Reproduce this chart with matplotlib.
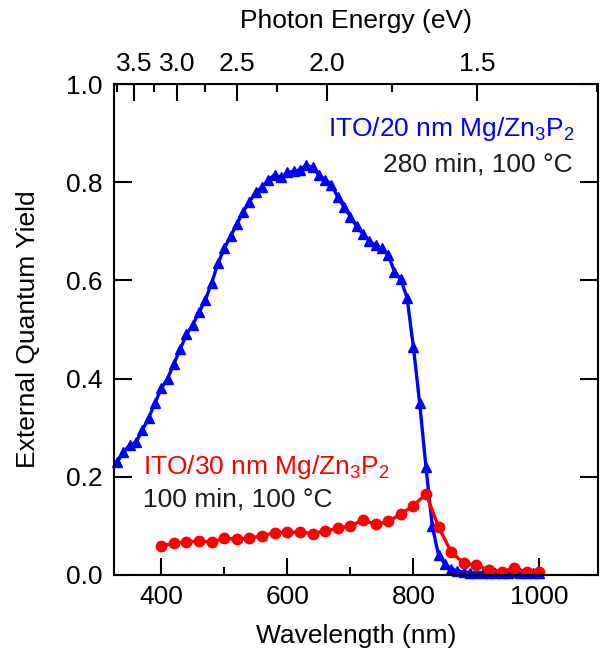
import numpy as np
import matplotlib
matplotlib.use("Agg")
import matplotlib.pyplot as plt

plt.rcParams["font.family"] = ["Liberation Sans", "DejaVu Sans"]
plt.rcParams["mathtext.fontset"] = "custom"
plt.rcParams["mathtext.rm"] = "Liberation Sans"
plt.rcParams["mathtext.it"] = "Liberation Sans:italic"

# ITO/20 nm Mg/Zn3P2, 280 min, 100 C
wl_blue = np.arange(330, 1001, 10)
eqe_blue = [0.23, 0.25, 0.265, 0.27, 0.295, 0.32, 0.35, 0.38, 0.40, 0.43,
            0.46, 0.49, 0.51, 0.535, 0.56, 0.595, 0.635, 0.665, 0.69, 0.715,
            0.74, 0.76, 0.78, 0.79, 0.805, 0.815, 0.81, 0.82, 0.822, 0.825,
            0.835, 0.83, 0.815, 0.805, 0.795, 0.77, 0.75, 0.73, 0.71, 0.695,
            0.68, 0.672, 0.665, 0.652, 0.618, 0.602, 0.565, 0.465, 0.35, 0.22,
            0.10, 0.04, 0.022, 0.013, 0.008, 0.006, 0.005, 0.004, 0.005, 0.004,
            0.004, 0.005, 0.004, 0.006, 0.004, 0.005, 0.004, 0.005]

# ITO/30 nm Mg/Zn3P2, 100 min, 100 C
wl_red = np.arange(400, 1001, 20)
eqe_red = [0.059, 0.065, 0.067, 0.069, 0.067, 0.075, 0.073, 0.075, 0.080, 0.086,
           0.087, 0.088, 0.084, 0.090, 0.095, 0.100, 0.112, 0.103, 0.109, 0.124,
           0.141, 0.165, 0.098, 0.047, 0.024, 0.020, 0.010, 0.006, 0.014, 0.006,
           0.006]

energy_major = [3.5, 3.0, 2.5, 2.0, 1.5]
energy_minor = [3.75, 3.25, 2.75, 2.25, 1.75, 1.25]

fs = 19


def wl_to_ev(x):
    x = np.asarray(x, dtype=float)
    with np.errstate(divide="ignore", invalid="ignore"):
        return 1428.6 / (x + 50.8)


def ev_to_wl(e):
    e = np.asarray(e, dtype=float)
    with np.errstate(divide="ignore", invalid="ignore"):
        return 1428.6 / e - 50.8


fig = plt.figure(figsize=(6, 6.53), dpi=100)
ax = fig.add_axes([114 / 600, 78 / 653, 484 / 600, 491 / 653])

ax.plot(wl_blue, eqe_blue, color="#0000ff", lw=2.4, marker="^", ms=7, clip_on=False)
ax.plot(wl_red, eqe_red, color="#ff0000", lw=2.4, marker="o", ms=7.5)

ax.set_xlim(325, 1093)
ax.set_ylim(0, 1.0)
ax.set_xticks([400, 600, 800, 1000])
ax.set_xticks([500, 700, 900], minor=True)
ax.set_yticks(np.arange(0, 1.01, 0.2))
ax.set_yticklabels(["0.0", "0.2", "0.4", "0.6", "0.8", "1.0"])

ax.tick_params(axis="both", which="both", direction="in", labelsize=fs, width=1.5)
ax.tick_params(axis="x", which="major", length=12, pad=7)
ax.tick_params(axis="x", which="minor", length=6)
ax.tick_params(axis="y", which="major", length=13, right=True, pad=8)
for s in ax.spines.values():
    s.set_linewidth(1.5)

ax.set_xlabel("Wavelength (nm)", fontsize=fs, labelpad=11)
ax.set_ylabel("External Quantum Yield", fontsize=fs, labelpad=19)

top = ax.secondary_xaxis("top", functions=(wl_to_ev, ev_to_wl))
top.set_xticks(energy_major)
top.set_xticks(energy_minor, minor=True)
top.set_xticklabels(["3.5", "3.0", "2.5", "2.0", "1.5"])
top.tick_params(which="both", direction="in", labelsize=fs, width=1.5)
top.tick_params(which="major", length=12, pad=6)
top.tick_params(which="minor", length=6)
top.set_xlabel("Photon Energy (eV)", fontsize=fs, labelpad=17)

ax.text(1057, 0.908, "ITO/20 nm Mg/Zn$_3$P$_2$", color="#0000ff", fontsize=fs,
        ha="right", va="center")
ax.text(1052, 0.837, "280 min, 100 °C", color="#1a1a1a", fontsize=fs,
        ha="right", va="center")
ax.text(371, 0.22, "ITO/30 nm Mg/Zn$_3$P$_2$", color="#ff0000", fontsize=fs,
        ha="left", va="center")
ax.text(371, 0.153, "100 min, 100 °C", color="#1a1a1a", fontsize=fs,
        ha="left", va="center")

fig.savefig("out.png", dpi=100)
